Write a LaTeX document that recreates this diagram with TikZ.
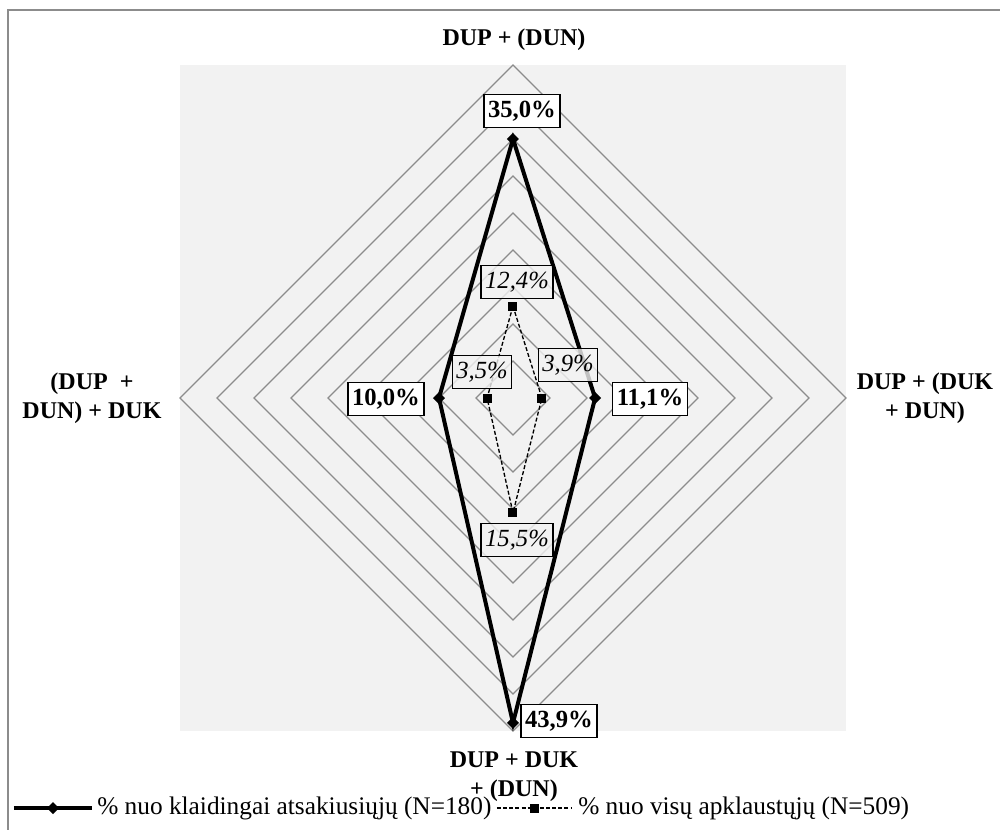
\documentclass[tikz,border=0pt]{standalone}
\usepackage{fontspec}
\setmainfont{Liberation Serif}
\usepackage{xcolor}
\usepackage{tikz}
\usetikzlibrary{arrows,calc}

\definecolor{plotbg}{HTML}{F2F2F2}
\definecolor{ringgray}{HTML}{8C8C8C}

\tikzset{
  ring/.style={draw=ringgray, line width=0.9pt},
  valA/.style={draw, line width=1.1pt, fill=white, inner xsep=3pt, minimum height=25pt,
    font=\bfseries\fontsize{18.5}{18.5}\selectfont},
  valB/.style={draw, line width=1.1pt, fill=plotbg, fill opacity=0.8, text opacity=1,
    inner xsep=3pt, minimum height=25pt, font=\itshape\fontsize{18.5}{18.5}\selectfont},
  axislbl/.style={align=center, font=\bfseries\fontsize{18}{21.5}\selectfont},
  legendtxt/.style={anchor=west, inner sep=0pt, font=\fontsize{19}{19}\selectfont},
  dashB/.style={line width=1pt, dash pattern=on 3pt off 1.6pt}
}

\begin{document}
\begin{tikzpicture}[x=0.75pt,y=0.75pt]

\useasboundingbox (-513,-431) rectangle (487,398);
\clip (-513,-431) rectangle (487,398);
\draw[ringgray, line width=1.5pt] (-505,-450) -- (-505,388) -- (500,388);

\fill[plotbg] (-333,-333) rectangle (333,333);
\foreach \r in {1,...,9}
\draw[ring] (0,\r*37) -- (\r*37,0) -- (0,-\r*37) -- (-\r*37,0) -- cycle;

\coordinate (at) at (0,259);
\coordinate (ar) at (82.1,0);
\coordinate (ab) at (0,-324.9);
\coordinate (al) at (-74,0);
\coordinate (bt) at (0,91.8);
\coordinate (br) at (28.9,0);
\coordinate (bb) at (0,-114.7);
\coordinate (bl) at (-25.9,0);

\draw[line width=3pt, line join=miter] (at) -- (ar) -- (ab) -- (al) -- cycle;
\draw[dashB] (bt) -- (br) -- (bb) -- (bl) -- cycle;
\foreach \p in {at,ar,ab,al}
\fill (\p) +(0,6) -- +(6,0) -- +(0,-6) -- +(-6,0) -- cycle;
\foreach \p in {bt,br,bb,bl}
\fill (\p) +(-4.5,-4.5) rectangle +(4.5,4.5);

\node[valA] (lat) at (9,287) {35,0\%};
\node[valA] (lar) at (137,-1) {11,1\%};
\node[valA] (lab) at (46,-323) {43,9\%};
\node[valA] (lal) at (-127,-1) {10,0\%};
\node[valB] (lbt) at (4,116) {12,4\%};
\node[valB] (lbr) at (55,33) {3,9\%};
\node[valB] (lbb) at (4,-142) {15,5\%};
\node[valB] (lbl) at (-31,26) {3,5\%};

\node[axislbl] (top) at (1,358) {DUP + (DUN)};
\node[axislbl] (right) at (412,0) {DUP + (DUK\\+ DUN)};
\node[axislbl] (bottom) at (1,-379) {DUP + DUK\\+ (DUN)};
\node[axislbl] (left) at (-421,0) {(DUP~~+\\DUN) + DUK};

\coordinate (la1) at (-499,-410);
\coordinate (la2) at (-421,-410);
\draw[line width=3pt] (la1) -- (la2);
\fill ($(la1)!0.5!(la2)$) +(0,6) -- +(6,0) -- +(0,-6) -- +(-6,0) -- cycle;
\node[legendtxt] (legA) at (-416,-410) {\% nuo klaidingai atsakiusiųjų (N=180)};
\coordinate (lb1) at (-16,-410);
\coordinate (lb2) at (59,-410);
\draw[dashB] (lb1) -- (lb2);
\fill ($(lb1)!0.5!(lb2)$) +(-4.5,-4.5) rectangle +(4.5,4.5);
\node[legendtxt] (legB) at (65,-410) {\% nuo visų apklaustųjų (N=509)};

\end{tikzpicture}
\end{document}
